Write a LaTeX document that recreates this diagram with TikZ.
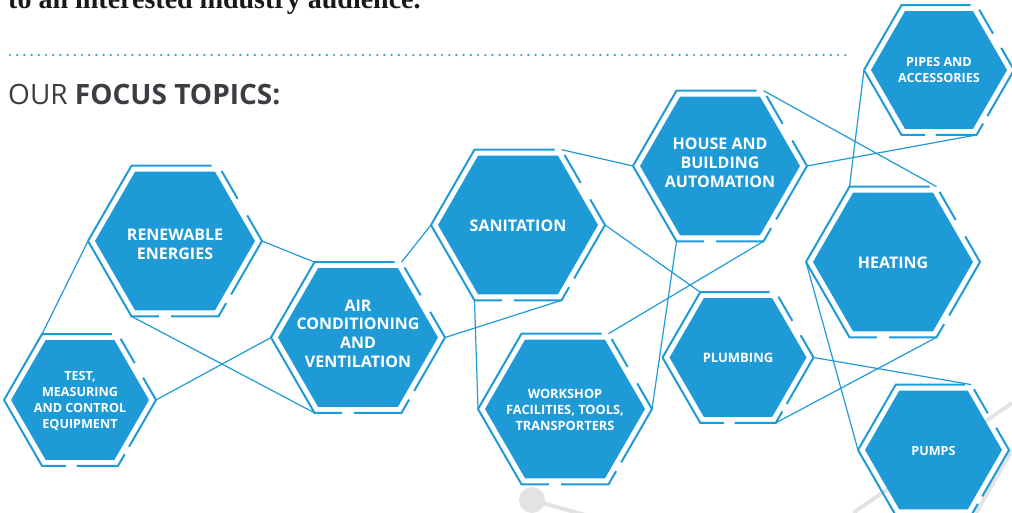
\documentclass[tikz,border=0pt]{standalone}
\usepackage{fontspec}
\setmainfont{Open Sans}
\newfontfamily\leadfont{Liberation Serif}
\usepackage{xcolor}
\usepackage{tikz}

\definecolor{topicblue}{RGB}{30,155,215}
\definecolor{headgrey}{RGB}{58,61,66}
\definecolor{bggrey}{RGB}{226,227,229}

\begin{document}
\begin{tikzpicture}[x=1pt,y=-1pt,
		hexfill/.style={fill=topicblue},
		hexrim/.style={draw=topicblue, line width=2pt},
		link/.style={draw=topicblue, line width=1.2pt},
		topic/.style={text=white, align=center, inner sep=0pt}]
		
		\useasboundingbox (0,0) rectangle (1012,513);
		\clip (0,0) rectangle (1012,513);
		
		% grey background lines
		\begin{scope}[bggrey, line width=4pt]
			\draw (532,500) -- (610,522);
			\fill (532,500) circle [radius = 13pt];
			\draw (853,513) -- (1012,403);
			\draw (976,513) -- (1012,450);
		\end{scope}
		
		% heading
		\node [anchor=base west, inner sep=0pt, text=black!90, font=\leadfont\bfseries\fontsize{28}{30}\selectfont] (lead) at (8,8.5) {to an interested industry audience.};
		\draw [topicblue, line width=2.4pt, line cap=round, dash pattern=on 0pt off 7.2pt] (10,55) -- (848,55);
		\node [anchor=base west, inner sep=0pt, text=headgrey, font=\fontsize{28}{30}\selectfont] (focus) at (8,105) {OUR \textbf{FOCUS TOPICS:}};
		
		% hexagons: name/x/y/radius/font size/baseline skip/text shift/text
		\foreach \hname/\hx/\hy/\hr/\tsize/\tskip/\tshift/\txt in {
			renew/175/241/80/16/19/3.5/{RENEWABLE\\ENERGIES},
			testing/80/400/69/12.6/16/1.5/{TEST,\\MEASURING\\AND CONTROL\\EQUIPMENT},
			aircon/358/337.5/80/16/18.7/-4/{AIR\\CONDITIONING\\AND\\VENTILATION},
			sanit/518/225/80/16/19/0.5/{SANITATION},
			house/720/166/80/16/19/-3/{HOUSE AND\\BUILDING\\AUTOMATION},
			workshop/565/409/80/12.8/16/0.5/{WORKSHOP\\FACILITIES, TOOLS,\\TRANSPORTERS},
			plumb/738/357.5/68.5/13/16/0.5/{PLUMBING},
			pipes/939/70/68/12.6/15.5/0/{PIPES AND\\ACCESSORIES},
			heat/893/262/80/16/19/1/{HEATING},
			pumps/933.5/450/68.5/12.6/15.5/0.5/{PUMPS}}
		{
			\pgfmathsetmacro\ro{\hr+7}
			\pgfmathsetmacro\da{1.92*\ro}
			\pgfmathsetmacro\db{0.15*\ro}
			\pgfmathsetmacro\dc{0.37*\ro}
			\pgfmathsetmacro\dd{0.22*\ro}
			\pgfmathsetmacro\de{1.05*\ro}
			\pgfmathsetmacro\df{0.115*\ro}
			\pgfmathsetmacro\dg{0.72*\ro}
			\pgfmathsetmacro\dh{0.14*\ro}
			\pgfmathsetmacro\di{1.32*\ro}
			
			\coordinate (\hname-l) at ({\hx-\ro},\hy);
			\coordinate (\hname-tl) at ({\hx-\ro/2},{\hy-0.866*\ro});
			\coordinate (\hname-tr) at ({\hx+\ro/2},{\hy-0.866*\ro});
			\coordinate (\hname-r) at ({\hx+\ro},\hy);
			\coordinate (\hname-br) at ({\hx+\ro/2},{\hy+0.866*\ro});
			\coordinate (\hname-bl) at ({\hx-\ro/2},{\hy+0.866*\ro});
			
			\fill [hexfill] ({\hx-\hr},\hy) -- ({\hx-\hr/2},{\hy-0.866*\hr}) -- ({\hx+\hr/2},{\hy-0.866*\hr})
				-- ({\hx+\hr},\hy) -- ({\hx+\hr/2},{\hy+0.866*\hr}) -- ({\hx-\hr/2},{\hy+0.866*\hr}) -- cycle;
			\draw [hexrim, dash pattern=on \da pt off \db pt on \dc pt off \dd pt on \de pt off \df pt on \dg pt off \dh pt on \di pt]
				(\hname-l) -- (\hname-tl) -- (\hname-tr) -- (\hname-r) -- (\hname-br) -- (\hname-bl) -- cycle;
			\node [topic, font=\bfseries\fontsize{\tsize}{\tskip}\selectfont] (\hname) at (\hx,{\hy+\tshift}) {\txt};
		}
		
		% links between the topics
		\draw [link] (testing-tl) -- (renew-l);
		\draw [link] (testing-r) -- (aircon-l);
		\draw [link] (renew-bl) -- (aircon-bl);
		\draw [link] (renew-r) -- (aircon-tl);
		\draw [link] (aircon-tr) -- (sanit-l);
		\draw [link] (aircon-r) -- (sanit-br);
		\draw [link] (sanit-bl) -- (workshop-l);
		\draw [link] (sanit-tr) -- (house-l);
		\draw [link] (sanit-r) -- (plumb-tl);
		\draw [link] (workshop-tr) -- (house-br);
		\draw [link] (house-bl) -- (workshop-r);
		\draw [link] (house-tr) -- (heat-tr);
		\draw [link] (house-r) -- (pipes-br);
		\draw [link] (pipes-l) -- (heat-tl);
		\draw [link] (heat-l) -- (pumps-l);
		\draw [link] (plumb-r) -- (pumps-tr);
		\draw [link] (plumb-br) -- (heat-br);
	\end{tikzpicture}
\end{document}
